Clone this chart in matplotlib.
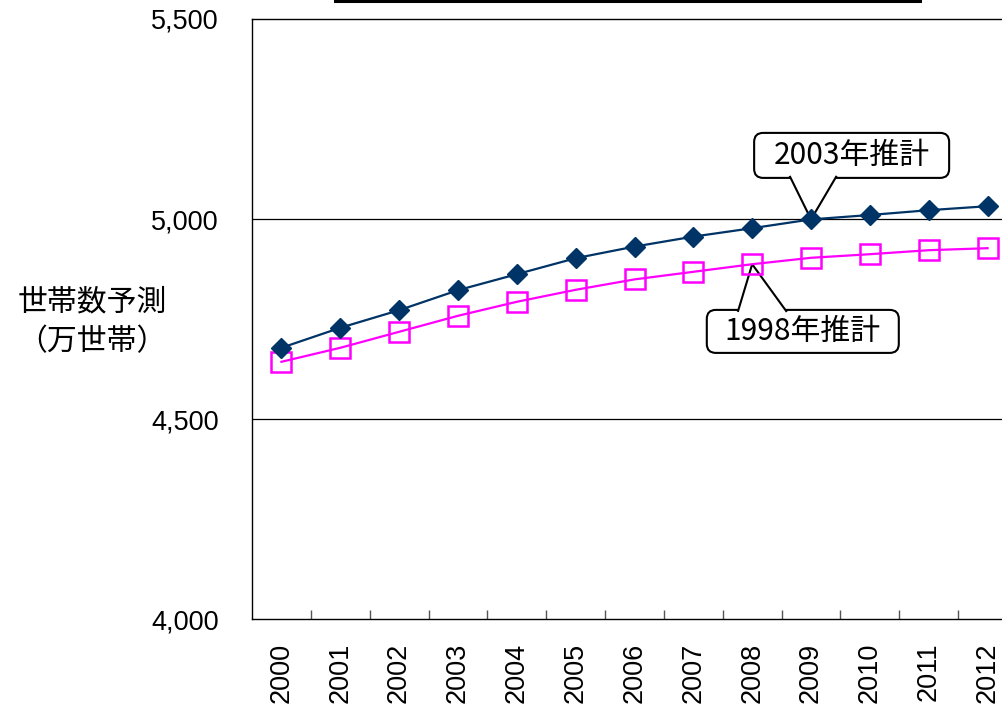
import matplotlib
matplotlib.use("Agg")
import matplotlib.pyplot as plt
from matplotlib.lines import Line2D
from matplotlib.patches import FancyBboxPatch, Polygon
from matplotlib.transforms import IdentityTransform
import numpy as np

plt.rcParams['font.family'] = ['Liberation Sans', 'Noto Sans CJK JP']

years = ["2000", "2001", "2002", "2003", "2004", "2005", "2006",
         "2007", "2008", "2009", "2010", "2011", "2012"]
est_2003 = [4678, 4728, 4772, 4822, 4862, 4902, 4931,
            4956, 4977, 4999, 5010, 5022, 5032]
est_1998 = [4643, 4678, 4718, 4758, 4793, 4823, 4849,
            4868, 4887, 4903, 4912, 4922, 4927]
label_2003 = "2003年推計"
label_1998 = "1998年推計"
y_ticks = [4000, 4500, 5000, 5500]

fig = plt.figure(figsize=(10.02, 7.11), dpi=100)
# the plot area runs past the right edge of the figure
ax = fig.add_axes([252 / 1002, 92 / 711, 765 / 1002, 600 / 711])

x = np.arange(len(years))
ax.plot(x, est_2003, color="#003366", lw=1.6, marker="D", ms=10.5,
        mfc="#003366", mec="#003366", zorder=10)
ax.plot(x, est_1998, color="#FF00FF", lw=1.6, marker="s", ms=14,
        mfc="none", mec="#FF00FF", mew=1.8, zorder=9)

ax.set_xlim(-0.5, len(years) - 0.5)
ax.set_ylim(4000, 5500)
ax.set_yticks(y_ticks)
ax.set_yticklabels([f"{v:,}" for v in y_ticks], fontsize=19.5)
ax.tick_params(axis="y", length=0, pad=24)
ax.set_xticks(x)
ax.set_xticklabels(years, rotation=90, fontsize=19.5)
ax.tick_params(axis="x", which="major", length=0, pad=17)
ax.set_xticks(np.arange(0.5, len(years) - 0.5), minor=True)
ax.tick_params(axis="x", which="minor", direction="in", length=6.5,
               width=1, color="#555555")

for v in y_ticks[1:-1]:
    ax.axhline(v, color="black", lw=0.9, zorder=1)
for s in ax.spines.values():
    s.set_color("black")
    s.set_linewidth(1.0)

fig.text(92 / 1002, 1 - 302 / 711, "世帯数予測", fontsize=21.5,
         ha="center", va="center", family="Noto Sans CJK JP")
fig.text(92 / 1002, 1 - 342 / 711, "（万世帯）", fontsize=21.5,
         ha="center", va="center", family="Noto Sans CJK JP")


def callout(text, point, center, size, base, below):
    # box and pointer in pixel space, box centre given in data units
    cx, cy = ax.transData.transform(center)
    px, py = ax.transData.transform(point)
    w, h = size
    ax.add_artist(FancyBboxPatch((cx - w / 2, cy - h / 2), w, h,
                                 boxstyle="round,pad=0,rounding_size=9",
                                 fc="white", ec="black", lw=1.5,
                                 transform=IdentityTransform(), zorder=6))
    edge = cy - h / 2 + 2 if below else cy + h / 2 - 2
    ax.add_artist(Polygon([(cx + base[0], edge), (px, py), (cx + base[1], edge)],
                          closed=False, fc="white", ec="black", lw=1.5,
                          transform=IdentityTransform(), zorder=7))
    ax.text(cx, cy, text, fontsize=21.5, family="Noto Sans CJK JP",
            ha="center", va="center", transform=IdentityTransform(), zorder=8)


callout(label_2003, (9, est_2003[9]), (9.69, 5159), (195, 45), (-62, -15), True)
callout(label_1998, (8, est_1998[8]), (8.86, 4719), (192, 43), (-65, -16), False)

# bottom edge of the title frame above the plot
fig.add_artist(Line2D([335 / 1002, 920 / 1002], [1 - 1 / 711, 1 - 1 / 711],
                      color="black", lw=2.2))

fig.savefig("out.png", dpi=100)
